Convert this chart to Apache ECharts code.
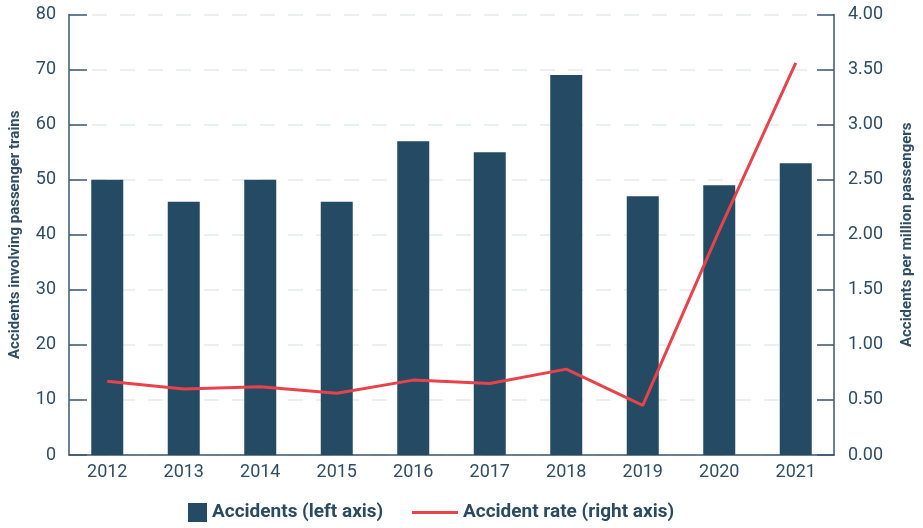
<!DOCTYPE html>
<html>
<head>
<meta charset="utf-8">
<script src="https://cdn.jsdelivr.net/npm/echarts@6/dist/echarts.min.js"></script>
<style>
  html, body { margin: 0; padding: 0; background: #ffffff; }
  #chart { width: 923px; height: 528px; }
</style>
</head>
<body>
<div id="chart"></div>
<script>
// Yearly accidents involving passenger trains and the accident rate
const years = ['2012', '2013', '2014', '2015', '2016', '2017', '2018', '2019', '2020', '2021'];
const accidents = [50, 46, 50, 46, 57, 55, 69, 47, 49, 53];
const accidentRate = [0.67, 0.60, 0.62, 0.56, 0.68, 0.65, 0.78, 0.45, 2.04, 3.56];

const barName = 'Accidents (left axis)';
const lineName = 'Accident rate (right axis)';

const ink = '#2f4d63';
const axisColor = '#3b5870';
const barColor = '#244b63';
const lineColor = '#e8434b';
const fontFamily = 'Roboto, "Noto Sans", sans-serif';

const chart = echarts.init(document.getElementById('chart'), null, { renderer: 'canvas' });

chart.setOption({
  animation: false,
  backgroundColor: '#ffffff',
  grid: { left: 65, right: 88, top: 14.5, bottom: 73, containLabel: false },
  legend: [
    {
      data: [{ name: barName, icon: 'rect' }],
      left: 188, top: 503, padding: 0,
      itemWidth: 19, itemHeight: 19,
      textStyle: { color: '#2a4a60', fontSize: 19, fontWeight: 'bold', fontFamily: fontFamily, lineHeight: 19 }
    },
    {
      data: [{ name: lineName, icon: 'rect' }],
      left: 412, top: 503, padding: 0,
      itemWidth: 46, itemHeight: 3,
      textStyle: { color: '#2a4a60', fontSize: 19, fontWeight: 'bold', fontFamily: fontFamily, lineHeight: 19 }
    }
  ],
  xAxis: {
    type: 'category',
    data: years,
    boundaryGap: true,
    axisLine: { show: true, lineStyle: { color: axisColor, width: 1.5 } },
    axisTick: { show: false },
    axisLabel: { color: ink, fontSize: 18, fontFamily: fontFamily, margin: 8 }
  },
  yAxis: [
    {
      type: 'value',
      min: 0, max: 80, interval: 10,
      name: 'Accidents involving passenger trains',
      nameLocation: 'middle',
      nameGap: 46,
      nameTextStyle: { color: ink, fontSize: 15, fontWeight: 'bold', fontFamily: fontFamily },
      axisLine: { show: true, lineStyle: { color: axisColor, width: 1.5 } },
      axisTick: { show: true, inside: true, length: 18, lineStyle: { color: axisColor, width: 1.5 } },
      axisLabel: { color: ink, fontSize: 18, fontFamily: fontFamily, margin: 13 },
      splitLine: {
        show: true,
        lineStyle: { color: '#e6eaea', width: 1.5, type: [15, 13], dashOffset: 5 }
      }
    },
    {
      type: 'value',
      min: 0, max: 4, interval: 0.5,
      name: 'Accidents per million passengers',
      nameLocation: 'middle',
      nameGap: 66,
      nameTextStyle: { color: ink, fontSize: 15, fontWeight: 'bold', fontFamily: fontFamily },
      axisLine: { show: true, lineStyle: { color: axisColor, width: 1.5 } },
      axisTick: { show: true, inside: true, length: 17, lineStyle: { color: axisColor, width: 1.5 } },
      axisLabel: {
        color: ink, fontSize: 18, fontFamily: fontFamily, margin: 14,
        formatter: v => v.toFixed(2)
      },
      splitLine: { show: false }
    }
  ],
  series: [
    {
      name: barName,
      type: 'bar',
      yAxisIndex: 0,
      data: accidents,
      barWidth: 32,
      itemStyle: { color: barColor }
    },
    {
      name: lineName,
      type: 'line',
      yAxisIndex: 1,
      data: accidentRate,
      showSymbol: false,
      symbol: 'none',
      lineStyle: { color: lineColor, width: 3 },
      itemStyle: { color: lineColor },
      z: 5
    }
  ]
});
</script>
</body>
</html>
